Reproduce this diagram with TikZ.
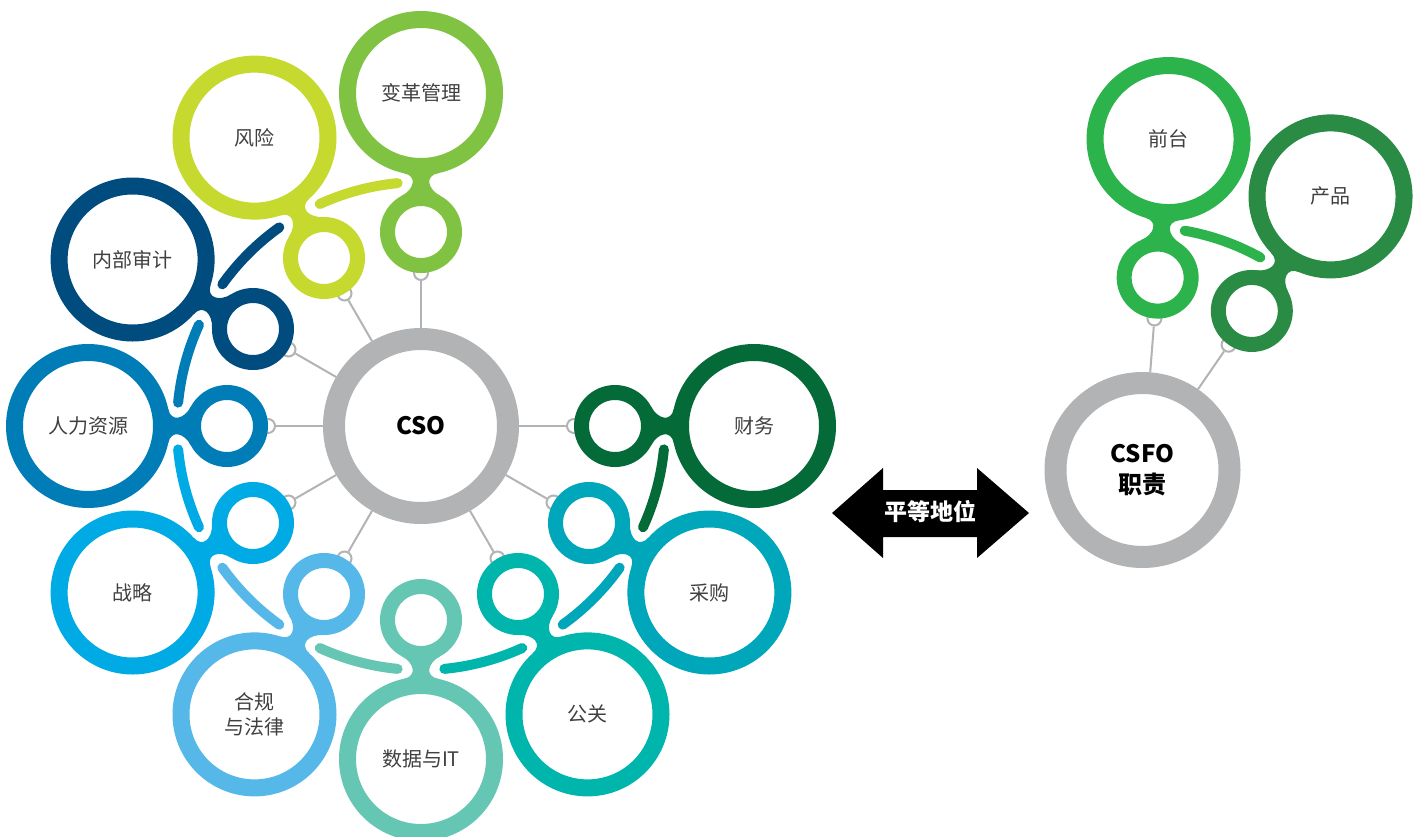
\documentclass[tikz,border=0pt]{standalone}
\usepackage{fontspec}
\usepackage{xcolor}
\usepackage{tikz}
\newfontfamily\cjk{Noto Sans CJK SC}
\definecolor{ringgray}{HTML}{B1B3B4}
\definecolor{labelgray}{HTML}{404040}
\definecolor{cchange}{HTML}{80C242}
\definecolor{crisk}{HTML}{C6D92E}
\definecolor{caudit}{HTML}{004C7E}
\definecolor{chr}{HTML}{007CB6}
\definecolor{cstrat}{HTML}{00AAE4}
\definecolor{clegal}{HTML}{55B8E8}
\definecolor{cdata}{HTML}{66C6B4}
\definecolor{cpr}{HTML}{00B5AC}
\definecolor{cbuy}{HTML}{00A6BA}
\definecolor{cfin}{HTML}{046A38}
\definecolor{cfront}{HTML}{2DB34B}
\definecolor{cprod}{HTML}{2A8B44}

\begin{document}
\begin{tikzpicture}[x=1pt, y=1pt,
  hubring/.style={circle, draw=ringgray, line width=22pt, minimum size=174pt, inner sep=0pt,
    align=center, font={\cjk\bfseries\fontsize{24}{31}\selectfont}},
  bigring/.style={circle, draw=#1, line width=17pt, minimum size=147pt, inner sep=0pt,
    align=center, text=labelgray, font={\cjk\fontsize{20}{25}\selectfont}},
  headring/.style={circle, draw=#1, line width=15pt, minimum size=67pt, inner sep=0pt},
  knob/.style={circle, draw=ringgray, fill=white, line width=2pt, minimum size=14pt, inner sep=0pt},
  linkline/.style={draw=ringgray, line width=2pt},
  armhalo/.style={draw=white, line width=18pt, line cap=round},
  armline/.style={draw=#1, line width=10pt, line cap=round}]
\useasboundingbox (0,0) rectangle (1422,-836);

% CSO side
\node[hubring] (cso) at (421,-426) {CSO};
\foreach \a [count=\N] in {90,120,150,180,210,240,300,330,0}
{\path (cso.center) ++(\a:153) node[knob] (k\N) {};
\draw[linkline] (cso) -- (k\N); }
\foreach \a/\col/\txt [count=\N] in {90/cchange/变革管理, 120/crisk/风险, 150/caudit/内部审计,
  180/chr/人力资源, 210/cstrat/战略, 240/clegal/{合规\\与法律}, 270/cdata/数据与IT,
  300/cpr/公关, 330/cbuy/采购, 0/cfin/财务}
{\path (cso.center) ++(\a:194) node[headring=\col] (h\N) {};
\path (cso.center) ++(\a:333) node[bigring=\col] (b\N) {\txt};
\begin{scope}[shift={(h\N.center)}, rotate=\a]
\fill[\col] (36.2,19.25) .. controls (42.8,6.9) and (55.9,3.35) .. (58.8,17.05)
  -- (58.8,-17.05) .. controls (55.9,-3.35) and (42.8,-6.9) .. (36.2,-19.25) -- cycle;
\end{scope} }
\foreach \a/\col in {120/crisk, 150/caudit, 180/chr, 210/cstrat, 240/clegal, 270/cdata,
  300/cpr, 330/cbuy, 0/cfin}
{\draw[armhalo] (cso.center) ++(\a-5.5:244) arc[start angle=\a-5.5, end angle=\a-24.5, radius=244];
\draw[armline=\col] (cso.center) ++(\a-5.5:244) arc[start angle=\a-5.5, end angle=\a-24.5, radius=244]; }

% arrow
\fill (832,-513) -- (883,-468) -- (883,-490) -- (977,-490) -- (977,-468) -- (1029,-513)
  -- (977,-558) -- (977,-537) -- (883,-537) -- (883,-558) -- cycle;
\node[text=white, font={\cjk\bfseries\fontsize{23}{28}\selectfont}] (equal) at (930,-512) {平等地位};

% CSFO side
\node[hubring] (csfo) at (1142.5,-470) {CSFO\\职责};
\foreach \a/\col/\txt [count=\N from 11] in {85.5/cfront/前台, 55.5/cprod/产品}
{\path (csfo.center) ++(\a:152) node[knob] (k\N) {};
\draw[linkline] (csfo) -- (k\N);
\path (csfo.center) ++(\a:193) node[headring=\col] (h\N) {};
\path (csfo.center) ++(\a:332) node[bigring=\col] (b\N) {\txt};
\begin{scope}[shift={(h\N.center)}, rotate=\a]
\fill[\col] (36.2,19.25) .. controls (42.8,6.9) and (55.9,3.35) .. (58.8,17.05)
  -- (58.8,-17.05) .. controls (55.9,-3.35) and (42.8,-6.9) .. (36.2,-19.25) -- cycle;
\end{scope} }
\draw[armhalo] (csfo.center) ++(80:243) arc[start angle=80, end angle=61, radius=243];
\draw[armline=cfront] (csfo.center) ++(80:243) arc[start angle=80, end angle=61, radius=243];
\end{tikzpicture}
\end{document}
